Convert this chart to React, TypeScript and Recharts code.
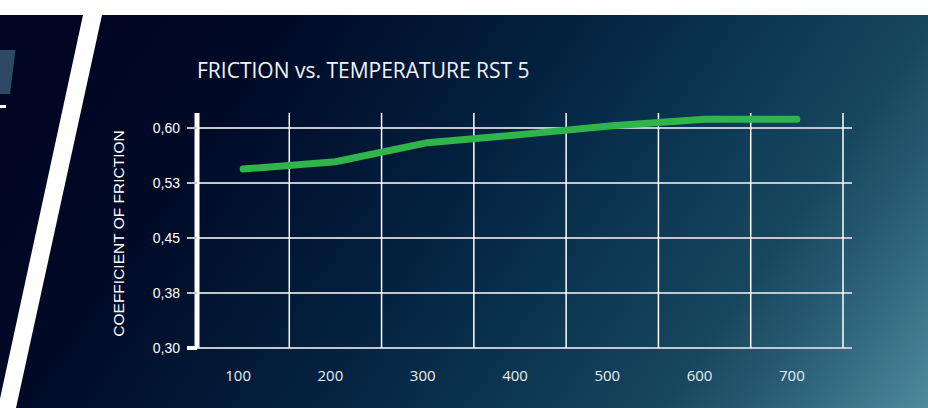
import { LineChart, Line, XAxis, YAxis, CartesianGrid } from 'recharts';

const temps = [100, 200, 300, 400, 500, 600, 700];
const friction = [0.544, 0.554, 0.58, 0.591, 0.603, 0.612, 0.612];
// column boundaries used for the vertical grid
const gridTemps = [50, 150, 250, 350, 450, 550, 650, 750];
const frictionTicks = [0.3, 0.375, 0.45, 0.525, 0.6];
const frictionTickLabels = ['0,30', '0,38', '0,45', '0,53', '0,60'];

const data = temps.map((t, i) => ({ temp: t, cof: friction[i] }));

function GridTick({ x, y, payload }: any) {
  const first = payload.value === gridTemps[0];
  return <line x1={x} x2={x} y1={y - 10} y2={y} stroke="#fff" strokeWidth={first ? 5 : 1.5} />;
}

function FrictionTick({ x, y, payload }: any) {
  const i = frictionTicks.indexOf(payload.value);
  const first = i === 0;
  return (
    <g>
      <line x1={x + 7} x2={x + 17} y1={y} y2={y} stroke={first ? '#fff' : '#c3c7cd'} strokeWidth={first ? 4 : 2} />
      <text x={x} y={y} textAnchor="end" dominantBaseline="central" fill="#fff"
        fontSize={14} fontFamily="'Liberation Sans', Arial, sans-serif">
        {frictionTickLabels[i]}
      </text>
    </g>
  );
}

export default function App() {
  return (
    <div style={{
      position: 'fixed', left: 0, top: 0, width: 928, height: 408, overflow: 'hidden',
      background: 'linear-gradient(125deg, #000420 0%, #000a27 25%, #03213f 48%, #0a3350 62%, #17475f 78%, #285c74 86%, #4e899e 100%)',
    }}>
      <svg width={928} height={408} style={{ position: 'absolute', left: 0, top: 0 }}>
        <rect x={0} y={0} width={928} height={15} fill="#fff" />
        <polygon points="83,15 102,15 16,408 -2,408" fill="#fff" />
        <polygon points="0,50 15.5,50 10,94 0,94" fill="#2d4964" />
        <rect x={0} y={105} width={6} height={3} fill="#fff" />
      </svg>
      <div style={{
        position: 'absolute', left: 197, top: 60, fontSize: 21, lineHeight: '20px',
        fontFamily: "'Open Sans', sans-serif", color: '#f2f4f6', whiteSpace: 'nowrap',
      }}>
        FRICTION vs. TEMPERATURE RST 5
      </div>
      <div style={{ position: 'absolute', left: 0, top: 0 }}>
        <LineChart width={928} height={408} data={data} margin={{ top: 113, right: 76, bottom: 0, left: 0 }}>
          <CartesianGrid horizontal vertical={false} syncWithTicks stroke="#c3c7cd" strokeWidth={2} />
          <CartesianGrid horizontal={false} vertical syncWithTicks stroke="#fff" strokeWidth={1.5} />
          <XAxis dataKey="temp" type="number" domain={[50, 750]} ticks={gridTemps} interval={0}
            padding={{ left: 0, right: 9 }} height={0} tickSize={10} tickMargin={0}
            tickLine={false} tick={<GridTick />} axisLine={{ stroke: '#fff', strokeWidth: 4 }} />
          <XAxis xAxisId="lbl" dataKey="temp" type="number" domain={[50, 750]} ticks={temps} interval={0}
            padding={{ left: 0, right: 9 }} height={60} tickSize={0} tickMargin={22}
            tickLine={false} axisLine={false} dx={-5}
            tick={{ fill: '#e8eef2', fontSize: 15, fontFamily: "'Open Sans', sans-serif" }} />
          <YAxis type="number" domain={[0.3, 0.6205]} ticks={frictionTicks} interval={0}
            width={197} tickSize={10} tickMargin={7}
            tickLine={false} tick={<FrictionTick />} axisLine={{ stroke: '#fff', strokeWidth: 5 }}
            label={{
              value: 'COEFFICIENT OF FRICTION', angle: -90, position: 'insideLeft', offset: 118,
              dy: 3, fill: '#fff', fontSize: 15.5, fontFamily: "'Liberation Sans', Arial, sans-serif",
              style: { textAnchor: 'middle' },
            }} />
          <Line dataKey="cof" type="linear" stroke="#30b54b" strokeWidth={7} strokeLinecap="round"
            strokeLinejoin="round" dot={false} activeDot={false} isAnimationActive={false} />
        </LineChart>
      </div>
    </div>
  );
}
